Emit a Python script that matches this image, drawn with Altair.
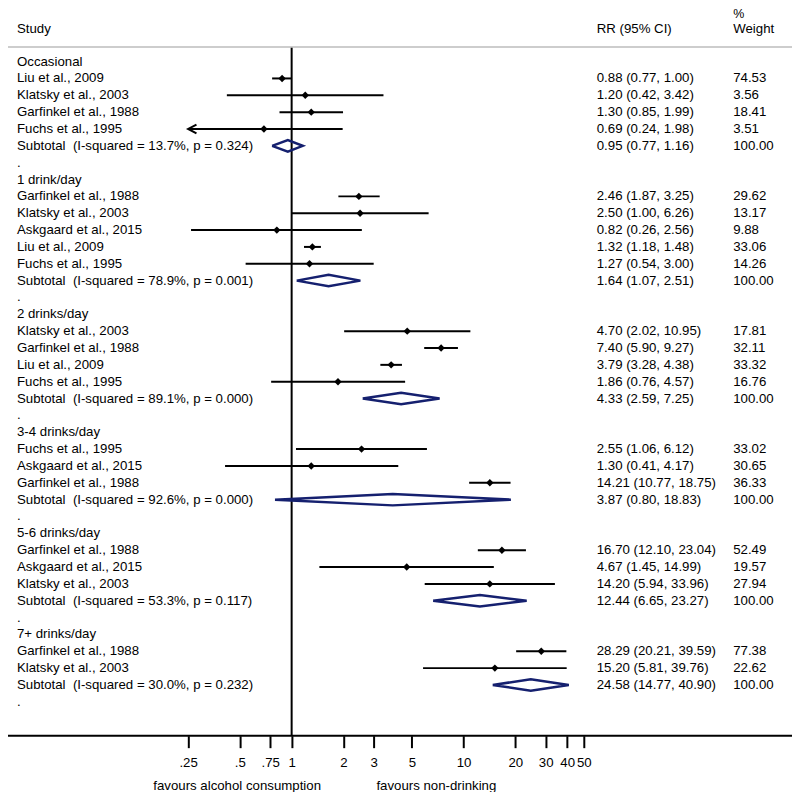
import altair as alt
import pandas as pd

FONT = "Liberation Sans"
FS = 13.3
NAVY = "#15206f"

groups = ["Occasional", "1 drink/day", "2 drinks/day", "3-4 drinks/day",
          "5-6 drinks/day", "7+ drinks/day"]
studies = [
    ["Liu et al., 2009", "Klatsky et al., 2003", "Garfinkel et al., 1988", "Fuchs et al., 1995"],
    ["Garfinkel et al., 1988", "Klatsky et al., 2003", "Askgaard et al., 2015",
     "Liu et al., 2009", "Fuchs et al., 1995"],
    ["Klatsky et al., 2003", "Garfinkel et al., 1988", "Liu et al., 2009", "Fuchs et al., 1995"],
    ["Fuchs et al., 1995", "Askgaard et al., 2015", "Garfinkel et al., 1988"],
    ["Garfinkel et al., 1988", "Askgaard et al., 2015", "Klatsky et al., 2003"],
    ["Garfinkel et al., 1988", "Klatsky et al., 2003"],
]
rr = [[0.88, 1.20, 1.30, 0.69], [2.46, 2.50, 0.82, 1.32, 1.27], [4.70, 7.40, 3.79, 1.86],
      [2.55, 1.30, 14.21], [16.70, 4.67, 14.20], [28.29, 15.20]]
rr_lo = [[0.77, 0.42, 0.85, 0.24], [1.87, 1.00, 0.26, 1.18, 0.54], [2.02, 5.90, 3.28, 0.76],
         [1.06, 0.41, 10.77], [12.10, 1.45, 5.94], [20.21, 5.81]]
rr_hi = [[1.00, 3.42, 1.99, 1.98], [3.25, 6.26, 2.56, 1.48, 3.00], [10.95, 9.27, 4.38, 4.57],
         [6.12, 4.17, 18.75], [23.04, 14.99, 33.96], [39.59, 39.76]]
weights = [[74.53, 3.56, 18.41, 3.51], [29.62, 13.17, 9.88, 33.06, 14.26],
           [17.81, 32.11, 33.32, 16.76], [33.02, 30.65, 36.33], [52.49, 19.57, 27.94],
           [77.38, 22.62]]
sub_i2 = [13.7, 78.9, 89.1, 92.6, 53.3, 30.0]
sub_p = ["0.324", "0.001", "0.000", "0.000", "0.117", "0.232"]
sub_rr = [0.95, 1.64, 4.33, 3.87, 12.44, 24.58]
sub_lo = [0.77, 1.07, 2.59, 0.80, 6.65, 14.77]
sub_hi = [1.16, 2.51, 7.25, 18.83, 23.27, 40.90]

tick_values = [0.25, 0.5, 0.75, 1, 2, 3, 5, 10, 20, 30, 40, 50]
tick_labels = [".25", ".5", ".75", "1", "2", "3", "5", "10", "20", "30", "40", "50"]
footer_labels = ["favours alcohol consumption", "favours non-drinking"]
X_MIN, X_MAX = 0.25, 50

# ---- build rows ----
label_rows, study_rows, diamond_pts = [], [], []
row = 0
for gi, g in enumerate(groups):
    label_rows.append({"row": row, "label": g})
    row += 1
    for si, s in enumerate(studies[gi]):
        e, l, h, w = rr[gi][si], rr_lo[gi][si], rr_hi[gi][si], weights[gi][si]
        label_rows.append({"row": row, "label": s,
                           "ci": f"{e:.2f} ({l:.2f}, {h:.2f})", "w": f"{w:.2f}"})
        study_rows.append({"row": row, "est": e, "lo": max(l, X_MIN), "hi": min(h, X_MAX),
                           "arrow": l < X_MIN})
        row += 1
    e, l, h = sub_rr[gi], sub_lo[gi], sub_hi[gi]
    label_rows.append({"row": row,
                       "label": f"Subtotal\u00a0 (I-squared = {sub_i2[gi]:.1f}%, p = {sub_p[gi]})",
                       "ci": f"{e:.2f} ({l:.2f}, {h:.2f})", "w": "100.00"})
    hh = 0.34
    for k, (xx, yy) in enumerate([(l, row), (e, row - hh), (h, row), (e, row + hh), (l, row)]):
        diamond_pts.append({"g": gi, "ord": k, "x": xx, "y": yy})
    row += 1
    label_rows.append({"row": row, "label": "."})
    row += 1

labels_df = pd.DataFrame(label_rows).fillna("")
studies_df = pd.DataFrame(study_rows)
arrows_df = studies_df[studies_df["arrow"]].assign(tip=X_MIN)
diamond_df = pd.DataFrame(diamond_pts)

# ---- scales / axis ----
XS = alt.Scale(type="log", domain=[X_MIN, X_MAX], range=[176.8, 574.0])
YS = alt.Scale(domain=[-3, 40], range=[1.56, 728.8])

expr = "''"
for v, t in reversed(list(zip(tick_values, tick_labels))):
    expr = f"datum.value == {v} ? '{t}' : ({expr})"

XA = alt.Axis(values=tick_values, labelExpr=expr, domain=False, grid=False, ticks=True,
              tickSize=12, tickWidth=2, tickColor="black", labelColor="black",
              labelFont=FONT, labelFontSize=FS, labelPadding=8, labelOverlap=False,
              labelFlush=False, labelBound=False, title=None)


def xq(field):
    return alt.X(field, type="quantitative", scale=XS, axis=XA)


def yq(field):
    return alt.Y(field, type="quantitative", scale=YS, axis=None)


one = pd.DataFrame({"v": [1.0]})

sep = alt.Chart(one).mark_rule(color="#bdbdbd", strokeWidth=1.6).encode(
    x=alt.value(-8), x2=alt.value(790), y=alt.value(37.7))

refline = alt.Chart(one).mark_rule(color="black", strokeWidth=2).encode(
    x=xq("v"), y=alt.value(38.5), y2=alt.value(729))

axisline = alt.Chart(one).mark_rule(color="black", strokeWidth=2).encode(
    x=alt.value(-8), x2=alt.value(783), y=alt.value(729))

ci = alt.Chart(studies_df).mark_rule(color="black", strokeWidth=2).encode(
    x=xq("lo"), x2="hi", y=yq("row"))

pts = alt.Chart(studies_df).mark_point(shape="diamond", filled=True, color="black",
                                       size=55, opacity=1).encode(
    x=xq("est"), y=yq("row"))

arrows = alt.Chart(arrows_df).mark_point(shape="M1.6,-0.85L0,0L1.6,0.85", filled=False,
                                         color="black", strokeWidth=2, size=110,
                                         opacity=1).encode(
    x=xq("tip"), y=yq("row"))

diamonds = alt.Chart(diamond_df).mark_line(color=NAVY, strokeWidth=2.5,
                                           strokeJoin="miter").encode(
    x=xq("x"), y=yq("y"), order="ord:Q", detail="g:N")

txt = dict(font=FONT, fontSize=FS, color="black", align="left", baseline="middle")

lab = alt.Chart(labels_df).mark_text(**txt).encode(
    x=alt.value(5), y=yq("row"), text="label:N")
cit = alt.Chart(labels_df).mark_text(**txt).encode(
    x=alt.value(587), y=yq("row"), text="ci:N")
wt = alt.Chart(labels_df).mark_text(**txt).encode(
    x=alt.value(724), y=yq("row"), text="w:N")

hdr = pd.DataFrame({"row": [-1.93], "study": ["Study"], "rr": ["RR (95% CI)"],
                    "pct": ["%"], "wt": ["Weight"]})
h1 = alt.Chart(hdr).mark_text(**txt).encode(x=alt.value(5), y=yq("row"), text="study:N")
h2 = alt.Chart(hdr).mark_text(**txt).encode(x=alt.value(587), y=yq("row"), text="rr:N")
h3 = alt.Chart(hdr).mark_text(**txt).encode(x=alt.value(724), y=yq("row"), text="wt:N")
h4 = alt.Chart(hdr).mark_text(font=FONT, fontSize=12.5, color="black", align="left",
                              baseline="alphabetic").encode(
    x=alt.value(724), y=alt.value(9), text="pct:N")

foot_df = pd.DataFrame({"t": footer_labels})
f1 = alt.Chart(foot_df.iloc[[0]]).mark_text(font=FONT, fontSize=FS, color="black",
                                            align="center", baseline="middle").encode(
    x=alt.value(226), y=alt.value(779.5), text="t:N")
f2 = alt.Chart(foot_df.iloc[[1]]).mark_text(font=FONT, fontSize=FS, color="black",
                                            align="center", baseline="middle").encode(
    x=alt.value(426), y=alt.value(779.5), text="t:N")

chart = alt.layer(sep, refline, axisline, ci, pts, arrows, diamonds, lab, cit, wt,
                  h1, h2, h3, h4, f1, f2).properties(
    width=783, height=729,
    autosize=alt.AutoSizeParams(type="none"),
    padding={"left": 4, "top": 0, "right": 0, "bottom": 55},
).configure_view(stroke=None)

chart.save("out.html", embed_options={"renderer": "svg", "actions": False})
